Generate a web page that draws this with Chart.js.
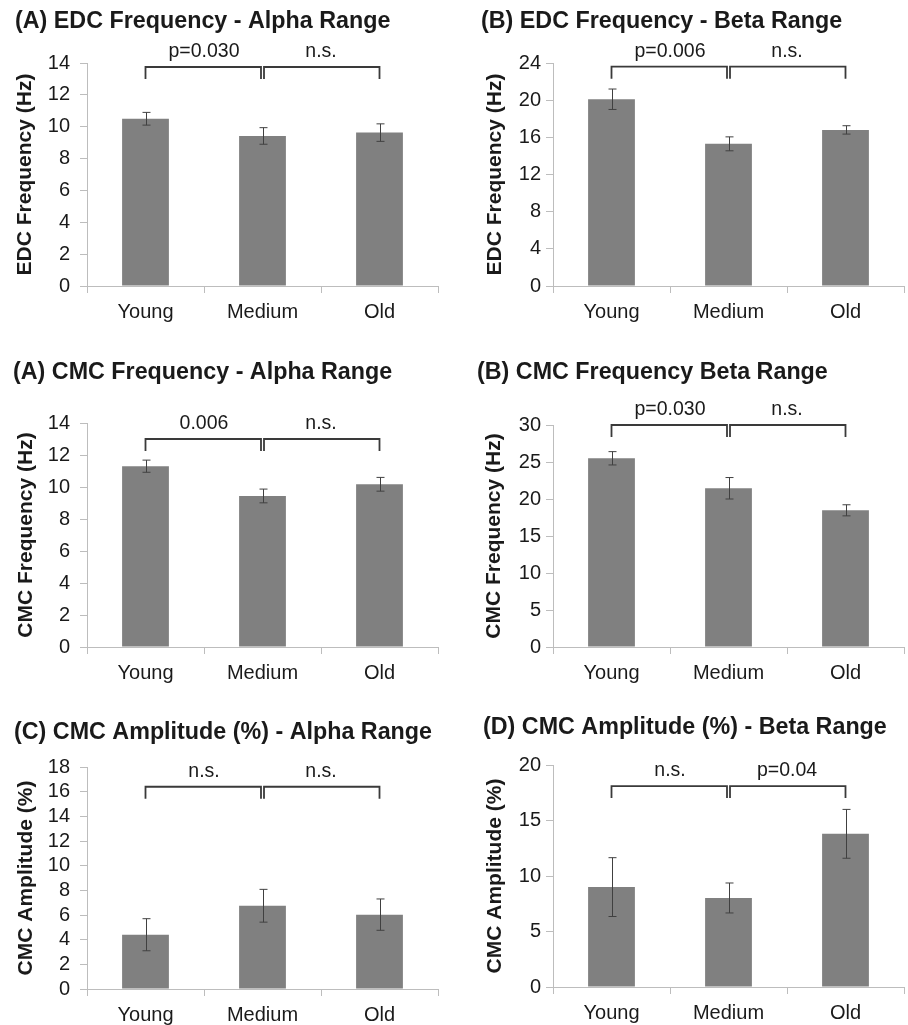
<!DOCTYPE html>
<html>
<head>
<meta charset="utf-8">
<script src="https://cdn.jsdelivr.net/npm/chart.js@4.4.1/dist/chart.umd.min.js"></script>
<style>
  body { margin: 0; background: #fff; width: 908px; height: 1025px; position: relative; overflow: hidden; }
  canvas { position: absolute; }
</style>
</head>
<body>
<canvas id="c0"></canvas>
<canvas id="c1"></canvas>
<canvas id="c2"></canvas>
<canvas id="c3"></canvas>
<canvas id="c4"></canvas>
<canvas id="c5"></canvas>
<script>
// ---- data ----
const groups = ["Young", "Medium", "Old"];

const edcAlphaMeans = [10.5, 9.42, 9.63];
const edcAlphaErrors = [0.4, 0.52, 0.55];
const edcAlphaTicks = [0, 2, 4, 6, 8, 10, 12, 14];
const edcAlphaSig = ["p=0.030", "n.s."];
const edcAlphaBracket = 13.75;

const edcBetaMeans = [20.1, 15.3, 16.8];
const edcBetaErrors = [1.1, 0.75, 0.45];
const edcBetaTicks = [0, 4, 8, 12, 16, 20, 24];
const edcBetaSig = ["p=0.006", "n.s."];
const edcBetaBracket = 23.6;

const cmcFreqAlphaMeans = [11.3, 9.44, 10.17];
const cmcFreqAlphaErrors = [0.38, 0.43, 0.43];
const cmcFreqAlphaTicks = [0, 2, 4, 6, 8, 10, 12, 14];
const cmcFreqAlphaSig = ["0.006", "n.s."];
const cmcFreqAlphaBracket = 13.0;

const cmcFreqBetaMeans = [25.5, 21.45, 18.47];
const cmcFreqBetaErrors = [0.9, 1.45, 0.75];
const cmcFreqBetaTicks = [0, 5, 10, 15, 20, 25, 30];
const cmcFreqBetaSig = ["p=0.030", "n.s."];
const cmcFreqBetaBracket = 30.0;

const cmcAmpAlphaMeans = [4.4, 6.75, 6.03];
const cmcAmpAlphaErrors = [1.3, 1.33, 1.27];
const cmcAmpAlphaTicks = [0, 2, 4, 6, 8, 10, 12, 14, 16, 18];
const cmcAmpAlphaSig = ["n.s.", "n.s."];
const cmcAmpAlphaBracket = 16.4;

const cmcAmpBetaMeans = [9.0, 8.02, 13.8];
const cmcAmpBetaErrors = [2.65, 1.35, 2.2];
const cmcAmpBetaTicks = [0, 5, 10, 15, 20];
const cmcAmpBetaSig = ["n.s.", "p=0.04"];
const cmcAmpBetaBracket = 18.1;

const panels = [
  { title: "(A) EDC Frequency - Alpha Range", yTitle: "EDC Frequency (Hz)", means: edcAlphaMeans, errors: edcAlphaErrors, ticks: edcAlphaTicks, sig: edcAlphaSig, bracket: edcAlphaBracket },
  { title: "(B) EDC Frequency - Beta Range", yTitle: "EDC Frequency (Hz)", means: edcBetaMeans, errors: edcBetaErrors, ticks: edcBetaTicks, sig: edcBetaSig, bracket: edcBetaBracket },
  { title: "(A) CMC Frequency - Alpha Range", yTitle: "CMC Frequency (Hz)", means: cmcFreqAlphaMeans, errors: cmcFreqAlphaErrors, ticks: cmcFreqAlphaTicks, sig: cmcFreqAlphaSig, bracket: cmcFreqAlphaBracket },
  { title: "(B) CMC Frequency Beta Range", yTitle: "CMC Frequency (Hz)", means: cmcFreqBetaMeans, errors: cmcFreqBetaErrors, ticks: cmcFreqBetaTicks, sig: cmcFreqBetaSig, bracket: cmcFreqBetaBracket },
  { title: "(C) CMC Amplitude (%) - Alpha Range", yTitle: "CMC Amplitude (%)", means: cmcAmpAlphaMeans, errors: cmcAmpAlphaErrors, ticks: cmcAmpAlphaTicks, sig: cmcAmpAlphaSig, bracket: cmcAmpAlphaBracket },
  { title: "(D) CMC Amplitude (%) - Beta Range", yTitle: "CMC Amplitude (%)", means: cmcAmpBetaMeans, errors: cmcAmpBetaErrors, ticks: cmcAmpBetaTicks, sig: cmcAmpBetaSig, bracket: cmcAmpBetaBracket },
];

// ---- page placement of each panel (page pixels) ----
const boxes = [
  { cx: 0,   cy: 0,   cw: 454, ch: 335, titleX: 15,  titleY: 22,  yTitleX: 25,  yTickPad: 10, area: { left: 87,  top: 63,  right: 438, bottom: 286 } },
  { cx: 454, cy: 0,   cw: 454, ch: 335, titleX: 481, titleY: 22,  yTitleX: 495, yTickPad: 5,  area: { left: 553, top: 63,  right: 904, bottom: 286 } },
  { cx: 0,   cy: 335, cw: 454, ch: 350, titleX: 13,  titleY: 373, yTitleX: 26,  yTickPad: 10, area: { left: 87,  top: 423, right: 438, bottom: 647 } },
  { cx: 454, cy: 335, cw: 454, ch: 350, titleX: 477, titleY: 373, yTitleX: 494, yTickPad: 5,  area: { left: 553, top: 425, right: 904, bottom: 647 } },
  { cx: 0,   cy: 685, cw: 454, ch: 340, titleX: 14,  titleY: 733, yTitleX: 26,  yTickPad: 10, area: { left: 87,  top: 767, right: 438, bottom: 989 } },
  { cx: 454, cy: 685, cw: 454, ch: 340, titleX: 483, titleY: 728, yTitleX: 495, yTickPad: 5,  area: { left: 553, top: 765, right: 904, bottom: 987 } },
];

const FONT = "'Liberation Sans', Arial, Helvetica, sans-serif";
const TEXT = "#1a1a1a";
const AXIS = "#bdbdbd";
const TITLE_SIZE = 23.3;
const YTITLE_SIZE = 21;

// error bars + significance brackets, drawn through the chart's own scales
const overlay = (p) => ({
  id: "overlay",
  afterDatasetsDraw(chart) {
    const { ctx, scales: { x, y } } = chart;
    ctx.save();

    // error bars
    ctx.strokeStyle = "#404040";
    ctx.lineWidth = 1;
    p.means.forEach((m, i) => {
      const cxp = Math.round(x.getPixelForValue(i)) + 0.5;
      const hi = y.getPixelForValue(m + p.errors[i]);
      const lo = y.getPixelForValue(m - p.errors[i]);
      ctx.beginPath();
      ctx.moveTo(cxp, hi); ctx.lineTo(cxp, lo);
      ctx.moveTo(cxp - 4, hi); ctx.lineTo(cxp + 4, hi);
      ctx.moveTo(cxp - 4, lo); ctx.lineTo(cxp + 4, lo);
      ctx.stroke();
    });

    // brackets
    const by = y.getPixelForValue(p.bracket);
    const c = groups.map((g, i) => x.getPixelForValue(i));
    const leg = 12, gap = 1.5;
    ctx.strokeStyle = "#3a3a3a";
    ctx.lineWidth = 1.8;
    ctx.beginPath();
    ctx.moveTo(c[0], by + leg); ctx.lineTo(c[0], by); ctx.lineTo(c[1] - gap, by); ctx.lineTo(c[1] - gap, by + leg);
    ctx.moveTo(c[1] + gap, by + leg); ctx.lineTo(c[1] + gap, by); ctx.lineTo(c[2], by); ctx.lineTo(c[2], by + leg);
    ctx.stroke();

    ctx.fillStyle = TEXT;
    ctx.font = `19.5px ${FONT}`;
    ctx.textAlign = "center";
    ctx.textBaseline = "middle";
    ctx.fillText(p.sig[0], (c[0] + c[1]) / 2, by - 15);
    ctx.fillText(p.sig[1], (c[1] + c[2]) / 2, by - 15);
    ctx.restore();
  },
});

panels.forEach((p, k) => {
  const b = boxes[k];
  const canvas = document.getElementById("c" + k);
  canvas.width = b.cw;
  canvas.height = b.ch;
  canvas.style.left = b.cx + "px";
  canvas.style.top = b.cy + "px";

  const titleLH = TITLE_SIZE * 1.2;
  const padTop = b.titleY - b.cy - titleLH / 2;
  const padLeft = b.titleX - b.cx;

  new Chart(canvas, {
    type: "bar",
    data: {
      labels: groups,
      datasets: [{
        data: p.means,
        backgroundColor: "#808080",
        borderWidth: 0,
        barPercentage: 0.4,
        categoryPercentage: 1.0,
      }],
    },
    plugins: [overlay(p)],
    options: {
      responsive: false,
      animation: false,
      layout: {
        padding: { left: padLeft, top: padTop, right: b.cx + b.cw - b.area.right, bottom: 0 },
      },
      scales: {
        x: {
          afterFit: (s) => { s.height = b.cy + b.ch - b.area.bottom; },
          grid: { display: true, drawOnChartArea: false, drawTicks: true, tickLength: 7, color: AXIS, offset: true },
          border: { color: AXIS, width: 1 },
          ticks: { color: TEXT, padding: 7, font: { family: FONT, size: 20 } },
        },
        y: {
          min: p.ticks[0],
          max: p.ticks[p.ticks.length - 1],
          afterBuildTicks: (s) => { s.ticks = p.ticks.map((v) => ({ value: v })); },
          afterFit: (s) => { s.width = b.area.left - b.titleX; },
          grid: { display: true, drawOnChartArea: false, drawTicks: true, tickLength: 7, color: AXIS },
          border: { color: AXIS, width: 1 },
          ticks: { color: TEXT, padding: b.yTickPad, autoSkip: false, font: { family: FONT, size: 20 } },
          title: {
            display: true,
            text: p.yTitle,
            color: TEXT,
            font: { family: FONT, size: YTITLE_SIZE, weight: "bold", lineHeight: 1.2 },
            padding: { top: b.yTitleX - b.titleX - (YTITLE_SIZE * 1.2) / 2, bottom: 0 },
          },
        },
      },
      plugins: {
        legend: { display: false },
        tooltip: { enabled: false },
        title: {
          display: true,
          text: p.title,
          align: "start",
          color: TEXT,
          font: { family: FONT, size: TITLE_SIZE, weight: "bold", lineHeight: 1.2 },
          padding: { top: 0, bottom: b.area.top - b.cy - padTop - titleLH },
        },
      },
    },
  });
});
</script>
</body>
</html>
